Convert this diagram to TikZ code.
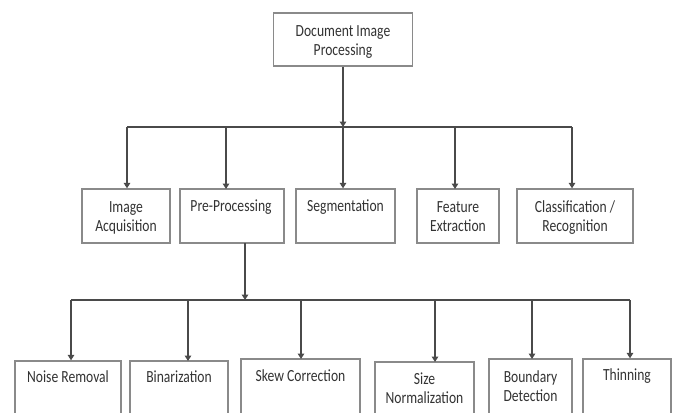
\documentclass[tikz,border=0pt]{standalone}
\usepackage{fontspec}
\setmainfont{Carlito}
\usetikzlibrary{arrows.meta}
\definecolor{boxc}{HTML}{8A8A8A}
\definecolor{linec}{HTML}{4A4A4A}
\definecolor{txtc}{HTML}{333333}
\newcommand{\sy}[1]{\scalebox{1}[1.25]{\begin{tabular}{@{}c@{}}#1\end{tabular}}}
\begin{document}
\begin{tikzpicture}[x=1pt,y=-1pt,
  box/.style={draw=boxc,line width=1.3pt,rectangle,inner sep=0pt},
  lbl/.style={text=txtc,inner sep=0pt,font=\fontsize{13.6}{15.5}\selectfont},
  conn/.style={draw=linec,line width=1.4pt},
  arr/.style={conn,-{Triangle[width=6.5pt,length=5.5pt]}}]
\useasboundingbox (0,0) rectangle (676,412);
\clip (0,0) rectangle (676,412);
\fill[white] (0,0) rectangle (676,412);
% top
\node[box,minimum width=139pt,minimum height=53pt] (dip) at (343,39.5) {};
\node[lbl] (dipt) at (343,42) {\sy{Document Image\\Processing}};
% level 2
\node[box,minimum width=88pt,minimum height=54pt] (acq) at (126,216) {};
\node[box,minimum width=104pt,minimum height=54pt] (pre) at (232,216) {};
\node[box,minimum width=99pt,minimum height=54pt] (seg) at (345.5,216) {};
\node[box,minimum width=82pt,minimum height=54pt] (feat) at (458,216) {};
\node[box,minimum width=116pt,minimum height=54pt] (cls) at (575,216) {};
\node[lbl] (acqt) at (126,218) {\sy{Image\\Acquisition}};
\node[lbl] (pret) at (231,208) {\sy{Pre-Processing}};
\node[lbl] (segt) at (345.5,208) {\sy{Segmentation}};
\node[lbl] (featt) at (458,218) {\sy{Feature\\Extraction}};
\node[lbl] (clst) at (575,218) {\sy{Classification /\\Recognition}};
% level 3
\node[box,minimum width=106pt,minimum height=70pt] (noise) at (68,396) {};
\node[box,minimum width=98pt,minimum height=70pt] (bin) at (179,396) {};
\node[box,minimum width=119pt,minimum height=72pt] (skew) at (300.5,395) {};
\node[box,minimum width=99pt,minimum height=70pt] (size) at (424.5,397) {};
\node[box,minimum width=83pt,minimum height=72pt] (bound) at (530.5,395) {};
\node[box,minimum width=88pt,minimum height=72pt] (thin) at (627,395) {};
\node[lbl] (noiset) at (68,379) {\sy{Noise Removal}};
\node[lbl] (bint) at (179,379) {\sy{Binarization}};
\node[lbl] (skewt) at (300.5,378) {\sy{Skew Correction}};
\node[lbl] (sizet) at (424.5,390) {\sy{Size\\Normalization}};
\node[lbl] (boundt) at (530.5,388) {\sy{Boundary\\Detection}};
\node[lbl] (thint) at (627,377) {\sy{Thinning}};
% connectors level 1 -> 2
\coordinate (b1) at (343,127);
\coordinate (b1l) at (127,127);
\coordinate (b1r) at (572,127);
\draw[arr] (dip.south) -- (b1);
\draw[conn] (b1l) -- (b1r);
\draw[arr] (b1l) -- (b1l |- acq.north);
\draw[arr] (226,127) -- (226,189);
\draw[arr] (b1) -- (b1 |- seg.north);
\draw[arr] (455,127) -- (455,189);
\draw[arr] (b1r) -- (b1r |- cls.north);
% connectors level 2 -> 3
\coordinate (p0) at (245,243);
\coordinate (b2) at (245,300);
\coordinate (b2l) at (71,300);
\coordinate (b2r) at (630,300);
\draw[arr] (p0) -- (b2);
\draw[conn] (b2l) -- (b2r);
\draw[arr] (b2l) -- (b2l |- noise.north);
\draw[arr] (188,300) -- (188,361);
\draw[arr] (301,300) -- (301,359);
\draw[arr] (435,300) -- (435,362);
\draw[arr] (532,300) -- (532,359);
\draw[arr] (b2r) -- (b2r |- thin.north);
\end{tikzpicture}
\end{document}
